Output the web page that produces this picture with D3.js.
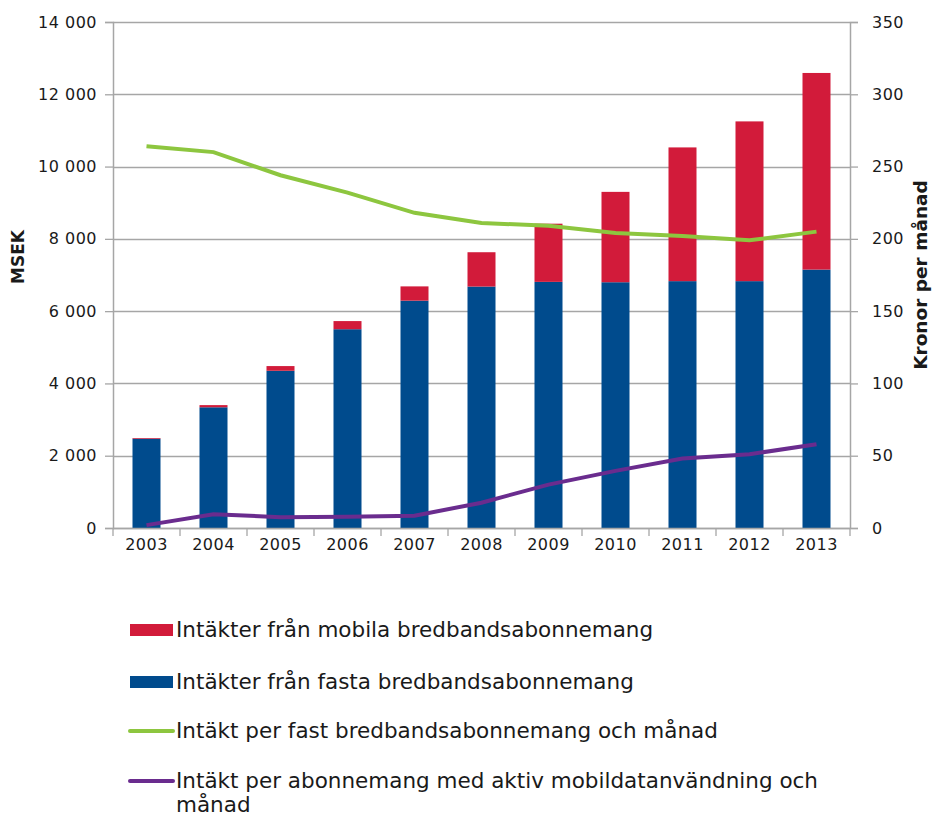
<!DOCTYPE html>
<html>
<head>
<meta charset="utf-8">
<script src="https://cdn.jsdelivr.net/npm/d3@7"></script>
<style>
  body { margin: 0; background: #fff; }
  text { font-family: "DejaVu Sans", Verdana, sans-serif; fill: #1a1a1a; }
</style>
</head>
<body>
<div id="viz"></div>
<script>
var years = ['2003','2004','2005','2006','2007','2008','2009','2010','2011','2012','2013'];
var fasta = [2470, 3340, 4350, 5500, 6290, 6680, 6810, 6800, 6830, 6830, 7150];
var mobila = [20, 60, 130, 225, 395, 950, 1610, 2500, 3700, 4420, 5440];
var perFast = [264, 260, 244, 232, 218, 211, 209, 204, 202, 199, 205];
var perMobil = [2, 9.5, 7.5, 7.7, 8.5, 17.5, 30, 39.5, 48, 51, 58];
var leftTicks = [0, 2000, 4000, 6000, 8000, 10000, 12000, 14000];
var rightTicks = [0, 50, 100, 150, 200, 250, 300, 350];

var legendItems = [
  { type: 'rect', color: '#d21b3a', lines: ['Intäkter från mobila bredbandsabonnemang'] },
  { type: 'rect', color: '#004b8d', lines: ['Intäkter från fasta bredbandsabonnemang'] },
  { type: 'line', color: '#8dc63f', lines: ['Intäkt per fast bredbandsabonnemang och månad'] },
  { type: 'line', color: '#6a2c8e', lines: ['Intäkt per abonnemang med aktiv mobildatanvändning och', 'månad'] }
];

var width = 935, height = 816;
var mLeft = 113, mRight = 850, mTop = 22, mBottom = 528;

var svg = d3.select('#viz').append('svg')
  .attr('width', width)
  .attr('height', height);

var x = d3.scaleBand().domain(years).range([mLeft, mRight]);
var yL = d3.scaleLinear().domain([0, 14000]).range([mBottom, mTop]);
var yR = d3.scaleLinear().domain([0, 350]).range([mBottom, mTop]);

var fmt = function(d) { return d3.format(',')(d).replace(/,/g, ' '); };

// gridlines
svg.append('g').selectAll('line').data(leftTicks).enter().append('line')
  .attr('x1', mLeft).attr('x2', mRight)
  .attr('y1', function(d) { return Math.round(yL(d)) + 0.5; })
  .attr('y2', function(d) { return Math.round(yL(d)) + 0.5; })
  .style('stroke', '#a6a6a6').style('stroke-width', 1.3);

// bars
var bw = 28;
svg.append('g').selectAll('rect').data(years).enter().append('rect')
  .attr('x', function(d) { return x(d) + x.bandwidth() / 2 - bw / 2; })
  .attr('y', function(d, i) { return yL(fasta[i]); })
  .attr('width', bw)
  .attr('height', function(d, i) { return yL(0) - yL(fasta[i]); })
  .style('fill', '#004b8d');

svg.append('g').selectAll('rect').data(years).enter().append('rect')
  .attr('x', function(d) { return x(d) + x.bandwidth() / 2 - bw / 2; })
  .attr('y', function(d, i) { return yL(fasta[i] + mobila[i]); })
  .attr('width', bw)
  .attr('height', function(d, i) { return yL(fasta[i]) - yL(fasta[i] + mobila[i]); })
  .style('fill', '#d21b3a');

// axes
var axL = svg.append('g').attr('transform', 'translate(' + mLeft + ',0)')
  .call(d3.axisLeft(yL).tickValues(leftTicks).tickFormat(fmt).tickSize(8).tickPadding(8));
var axR = svg.append('g').attr('transform', 'translate(' + mRight + ',0)')
  .call(d3.axisRight(yR).tickValues(rightTicks).tickSize(8).tickPadding(14));
var axB = svg.append('g').attr('transform', 'translate(0,' + mBottom + ')')
  .call(d3.axisBottom(x).tickSize(0).tickPadding(11));

[axL, axR, axB].forEach(function(a) {
  a.select('.domain').style('stroke', '#a6a6a6').style('stroke-width', 1.5);
  a.selectAll('.tick line').style('stroke', '#a6a6a6').style('stroke-width', 1.3);
  a.selectAll('text').style('font-size', '16px').style('letter-spacing', '0.5px')
    .style('font-family', '"DejaVu Sans", Verdana, sans-serif').style('fill', '#1a1a1a');
});
axB.select('.domain').attr('d', 'M' + mLeft + ',0.5H' + mRight);

// category separator ticks
svg.append('g').selectAll('line').data(years.concat(['end'])).enter().append('line')
  .attr('x1', function(d, i) { return mLeft + i * x.step(); })
  .attr('x2', function(d, i) { return mLeft + i * x.step(); })
  .attr('y1', mBottom).attr('y2', mBottom + 8)
  .style('stroke', '#a6a6a6').style('stroke-width', 1.3);

// lines
var line = d3.line()
  .x(function(d, i) { return x(years[i]) + x.bandwidth() / 2; })
  .y(function(d) { return yR(d); });

svg.append('path').datum(perFast)
  .attr('d', line)
  .style('fill', 'none').style('stroke', '#8dc63f').style('stroke-width', 4);
svg.append('path').datum(perMobil)
  .attr('d', line)
  .style('fill', 'none').style('stroke', '#6a2c8e').style('stroke-width', 4);

// axis titles
svg.append('text')
  .attr('transform', 'translate(24,257) rotate(-90)')
  .attr('text-anchor', 'middle')
  .style('font-size', '17px').style('font-weight', 'bold')
  .text('MSEK');
svg.append('text')
  .attr('transform', 'translate(927,275) rotate(-90)')
  .attr('text-anchor', 'middle')
  .style('font-size', '18.5px').style('font-weight', 'bold')
  .text('Kronor per månad');

// legend
var legendY = [630, 682, 731, 781];
var lg = svg.append('g').selectAll('g').data(legendItems).enter().append('g')
  .attr('transform', function(d, i) { return 'translate(130,' + legendY[i] + ')'; });

lg.filter(function(d) { return d.type === 'rect'; }).append('rect')
  .attr('x', 0).attr('y', -6).attr('width', 43).attr('height', 12)
  .style('fill', function(d) { return d.color; });
lg.filter(function(d) { return d.type === 'line'; }).append('line')
  .attr('x1', 0).attr('x2', 43).attr('y1', 0).attr('y2', 0)
  .style('stroke', function(d) { return d.color; })
  .style('stroke-width', 4).style('stroke-linecap', 'round');

lg.append('text')
  .attr('x', 46).attr('y', 7)
  .style('font-size', '21.5px')
  .selectAll('tspan').data(function(d) { return d.lines; }).enter().append('tspan')
  .attr('x', 46)
  .attr('dy', function(d, i) { return i === 0 ? 0 : 24; })
  .text(function(d) { return d; });
</script>
</body>
</html>
